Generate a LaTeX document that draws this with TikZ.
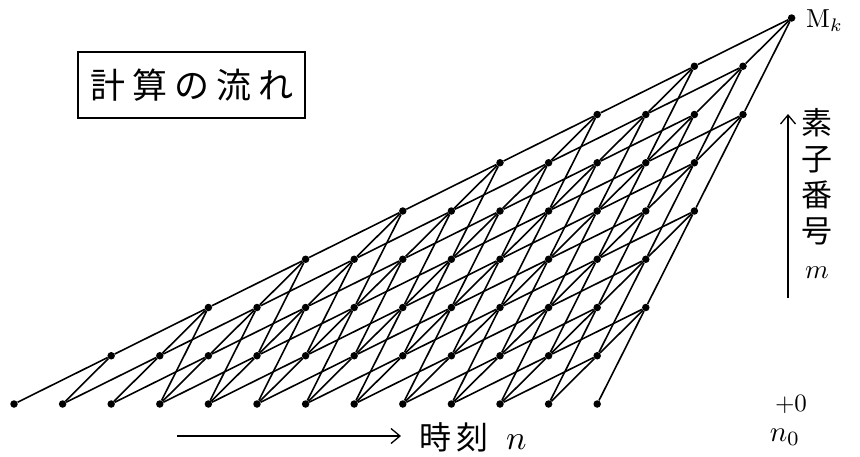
\documentclass[tikz,border=0pt]{standalone}
\usepackage{fontspec}
\newfontfamily\cjk{Noto Sans CJK JP}
\usetikzlibrary{arrows.meta}
\begin{document}
\begin{tikzpicture}[x=1pt,y=-1pt,
  dot/.style={circle,fill=black,inner sep=0pt,minimum size=7.5pt},
  edge/.style={line width=1.6pt},
  axisarrow/.style={line width=1.3pt,-{Straight Barb[length=9pt,width=15pt,line width=1.3pt]}},
  jp/.style={font=\cjk\fontsize{31}{36}\selectfont,inner sep=0pt},
  lat/.style={font=\normalsize,inner sep=0pt},
]
\fill[white] (0,0) rectangle (860,456);
\useasboundingbox (0,0) rectangle (860,456);

% lattice points: row m, column u with 2m <= u <= 12+floor(m/2)
\foreach \m in {0,...,8} {
  \pgfmathtruncatemacro\umin{2*\m}
  \pgfmathtruncatemacro\umax{12+floor(\m/2)}
  \foreach \u in {\umin,...,\umax} {
    \node[dot] (p-\u-\m) at ({14+48.6*\u},{404-48.25*\m}) {};
  }
}

% connectors: (u,m) -> (u+2,m+1), (u+1,m+1), (u+1,m+2)
\foreach \m in {0,...,7} {
  \pgfmathtruncatemacro\umin{2*\m}
  \pgfmathtruncatemacro\umax{12+floor(\m/2)}
  \foreach \u in {\umin,...,\umax} {
    \foreach \du/\dm in {2/1,1/1,1/2} {
      \pgfmathtruncatemacro\tu{\u+\du}
      \pgfmathtruncatemacro\tm{\m+\dm}
      \pgfmathtruncatemacro\ok{(\tm<=8)*(\tu>=2*\tm)*(\tu<=12+floor(\tm/2))}
      \ifnum\ok=1 \draw[edge] (p-\u-\m) -- (p-\tu-\tm); \fi
    }
  }
}

% title box
\node[draw,line width=1.3pt,minimum width=227pt,minimum height=66pt,inner sep=0pt,
      font=\cjk\fontsize{35}{35}\selectfont] (title) at (191.5,85)
  {計\hspace{7pt}算\hspace{7pt}の\hspace{7pt}流\hspace{7pt}れ};

% top label
\node[lat,anchor=west] (mk) at (806,21) {\scalebox{2.6}{M$_{k}$}};

% element axis
\coordinate (ea) at (788,298);
\coordinate (eb) at (788,114);
\draw[axisarrow] (ea) -- (eb);
\node[jp,anchor=north,align=center] (elem) at (817,108)
  {素\\子\\番\\号\\{\normalsize\scalebox{2.7}{$m$}}};

% time axis
\coordinate (ta) at (177,436);
\coordinate (tb) at (401,436);
\draw[axisarrow] (ta) -- (tb);
\node[font=\cjk\fontsize{32}{32}\selectfont,inner sep=0pt,anchor=west] (time) at (419,437)
  {時\hspace{5pt}刻\hspace{18pt}{\normalsize\scalebox{3.4}{$n$}}};

% bottom right labels
\node[lat] (plus) at (791,404) {\scalebox{2.5}{$+0$}};
\node[lat] (nzero) at (785,437) {\scalebox{2.9}{$n_0$}};
\end{tikzpicture}
\end{document}
